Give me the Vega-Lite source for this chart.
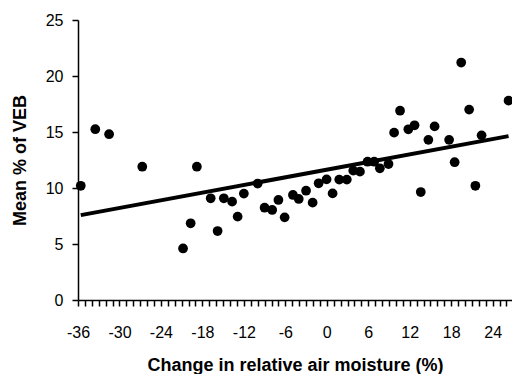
{
  "$schema": "https://vega.github.io/schema/vega-lite/v6.json",
  "width": 434,
  "height": 280,
  "autosize": {"type": "none"},
  "padding": {"left": 78, "top": 20, "right": 0, "bottom": 74},
  "background": "white",
  "config": {
    "font": "Liberation Sans",
    "view": {"stroke": null},
    "axis": {
      "grid": false,
      "domainColor": "black",
      "domainWidth": 1.5,
      "tickColor": "black",
      "tickWidth": 1.5,
      "tickSize": 6,
      "labelColor": "black",
      "labelFontSize": 16,
      "labelFont": "Liberation Sans",
      "titleFont": "Liberation Sans",
      "titleColor": "black",
      "titleFontSize": 18,
      "titleFontWeight": "bold"
    }
  },
  "datasets": {
    "points": [
      {"x": -35.6, "y": 10.2}, {"x": -33.5, "y": 15.25}, {"x": -31.5, "y": 14.8}, {"x": -26.7, "y": 11.9},
      {"x": -20.8, "y": 4.6}, {"x": -19.7, "y": 6.85}, {"x": -18.8, "y": 11.9}, {"x": -16.8, "y": 9.08},
      {"x": -15.8, "y": 6.16}, {"x": -14.9, "y": 9.08}, {"x": -13.7, "y": 8.78}, {"x": -12.9, "y": 7.44},
      {"x": -12.0, "y": 9.5}, {"x": -10.0, "y": 10.4}, {"x": -9.0, "y": 8.24}, {"x": -7.9, "y": 8.04},
      {"x": -7.0, "y": 8.93}, {"x": -6.1, "y": 7.38}, {"x": -4.9, "y": 9.38}, {"x": -4.06, "y": 9.02},
      {"x": -3.0, "y": 9.76}, {"x": -2.05, "y": 8.69}, {"x": -1.18, "y": 10.42}, {"x": -0.03, "y": 10.77},
      {"x": 0.84, "y": 9.52}, {"x": 1.8, "y": 10.75}, {"x": 2.9, "y": 10.75}, {"x": 3.83, "y": 11.55},
      {"x": 4.8, "y": 11.46}, {"x": 5.9, "y": 12.35}, {"x": 6.86, "y": 12.35}, {"x": 7.68, "y": 11.76},
      {"x": 8.93, "y": 12.14}, {"x": 9.74, "y": 14.94}, {"x": 10.6, "y": 16.9}, {"x": 11.8, "y": 15.24},
      {"x": 12.7, "y": 15.6}, {"x": 13.6, "y": 9.64}, {"x": 14.7, "y": 14.3}, {"x": 15.6, "y": 15.5},
      {"x": 17.7, "y": 14.3}, {"x": 18.5, "y": 12.3}, {"x": 19.45, "y": 21.2}, {"x": 20.6, "y": 17.0},
      {"x": 21.5, "y": 10.2}, {"x": 22.4, "y": 14.7}, {"x": 26.3, "y": 17.8}
    ],
    "trend": [
      {"x": -35.6, "y": 7.58},
      {"x": 26.3, "y": 14.63}
    ]
  },
  "layer": [
    {
      "data": {"name": "trend"},
      "mark": {"type": "line", "color": "black", "strokeWidth": 4, "strokeCap": "butt"},
      "encoding": {
        "x": {
          "field": "x", "type": "quantitative",
          "scale": {"domain": [-36, 26.8], "nice": false, "zero": false},
          "axis": {
            "title": "Change in relative air moisture (%)",
            "values": [-36,-35,-34,-33,-32,-31,-30,-29,-28,-27,-26,-25,-24,-23,-22,-21,-20,-19,-18,-17,-16,-15,-14,-13,-12,-11,-10,-9,-8,-7,-6,-5,-4,-3,-2,-1,0,1,2,3,4,5,6,7,8,9,10,11,12,13,14,15,16,17,18,19,20,21,22,23,24,25,26],
            "tickCount": 200,
            "labelExpr": "datum.value % 6 == 0 ? toString(datum.value) : ''",
            "labelOverlap": false,
            "labelFlush": false,
            "labelPadding": 18,
            "titlePadding": 16
          }
        },
        "y": {
          "field": "y", "type": "quantitative",
          "scale": {"domain": [0, 25], "nice": false},
          "axis": {
            "title": "Mean % of VEB",
            "values": [0, 5, 10, 15, 20, 25],
            "labelPadding": 9,
            "titlePadding": 16
          }
        }
      }
    },
    {
      "data": {"name": "points"},
      "mark": {"type": "circle", "color": "black", "opacity": 1, "size": 95},
      "encoding": {
        "x": {"field": "x", "type": "quantitative"},
        "y": {"field": "y", "type": "quantitative"}
      }
    }
  ]
}
